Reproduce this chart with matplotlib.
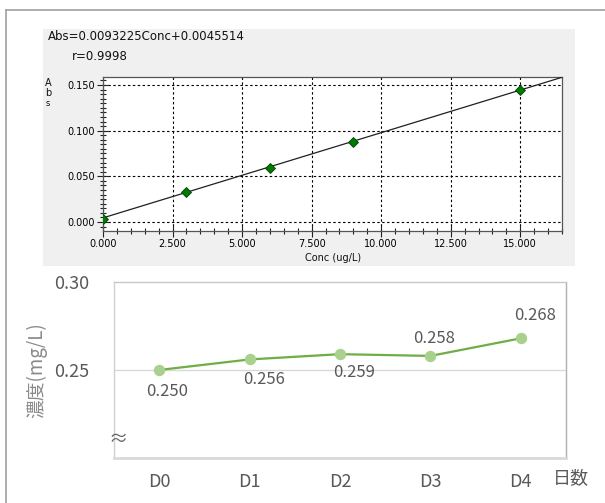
import matplotlib
matplotlib.use("Agg")
import matplotlib.pyplot as plt
from matplotlib.patches import Rectangle
from matplotlib.lines import Line2D
from matplotlib.ticker import MultipleLocator
import numpy as np

# Calibration curve data
conc = [0.0, 3.0, 6.0, 9.0, 15.0]
absorb = [0.0035, 0.033, 0.059, 0.088, 0.144]
slope = 0.0093225
intercept = 0.0045514
r_value = 0.9998
cal_xticks = [0.0, 2.5, 5.0, 7.5, 10.0, 12.5, 15.0]
cal_yticks = [0.0, 0.05, 0.10, 0.15]

# Daily concentration data
days = ["D0", "D1", "D2", "D3", "D4"]
density = [0.250, 0.256, 0.259, 0.258, 0.268]
density_labels = ["0.250", "0.256", "0.259", "0.258", "0.268"]
label_offsets = [(8, -21), (14, -20), (14, -18), (4, 17), (14, 23)]

W, H = 605, 503
fig = plt.figure(figsize=(W / 100, H / 100), dpi=100)
fig.patch.set_facecolor("white")

def fx(px):
    return px / W

def fy(py):
    return 1 - py / H

# Outer frame
fig.add_artist(Line2D([fx(6), 1.0], [fy(10), fy(10)], color="#a0a0a0", lw=1.2))
fig.add_artist(Line2D([fx(6), fx(6)], [fy(10), 0.0], color="#a0a0a0", lw=1.2))

# Calibration panel background
fig.add_artist(Rectangle((fx(43), fy(266)), fx(575) - fx(43), fy(29) - fy(266),
                         transform=fig.transFigure, facecolor="#f0f0f0",
                         edgecolor="none", zorder=0))

top_font = "DejaVu Sans"
ax1 = fig.add_axes([fx(103), fy(231), fx(562) - fx(103), fy(77) - fy(231)])
ax1.set_facecolor("white")
xmax = 16.5
ax1.set_xlim(0, xmax)
ax1.set_ylim(-0.0098, 0.1587)
ax1.set_xticks(cal_xticks)
ax1.set_xticklabels([f"{v:.3f}" for v in cal_xticks], fontsize=7, family=top_font)
ax1.set_yticks(cal_yticks)
ax1.set_yticklabels([f"{v:.3f}" for v in cal_yticks], fontsize=7, family=top_font)
ax1.xaxis.set_minor_locator(MultipleLocator(0.5))
ax1.yaxis.set_minor_locator(MultipleLocator(0.005))
ax1.tick_params(which="major", direction="inout", length=8, width=0.8, color="#222", pad=2)
ax1.tick_params(which="minor", direction="inout", length=5, width=0.8, color="#222")
ax1.grid(True, which="major", color="black", linestyle=(0, (2.2, 2.2)), lw=0.8)
for s in ax1.spines.values():
    s.set_color("#555555")
    s.set_linewidth(0.9)

# Regression line across the full x range
xs = np.array([0.0, xmax])
ax1.plot(xs, slope * xs + intercept, color="#202020", lw=0.9, zorder=3)
ax1.plot(conc, absorb, linestyle="none", marker="D", markersize=5,
         markerfacecolor="#007a00", markeredgecolor="#004000", markeredgewidth=0.6,
         zorder=4, clip_on=True)

fig.text(fx(48), fy(37), f"Abs={slope}Conc+{intercept}", fontsize=8.5,
         family=top_font, va="center", ha="left", color="#111")
fig.text(fx(72), fy(57), f"r={r_value}", fontsize=8.5, family=top_font,
         va="center", ha="left", color="#111")
for ch, yy in zip("Abs", [83, 93, 103]):
    fig.text(fx(48), fy(yy), ch, fontsize=7 if ch != "s" else 6, family=top_font,
             va="center", ha="center", color="#111")
fig.text(fx(333), fy(258), "Conc (ug/L)", fontsize=7, family=top_font,
         va="center", ha="center", color="#111")

# Daily concentration panel
cjk = ["Noto Sans CJK JP", "DejaVu Sans"]
ax2 = fig.add_axes([fx(114), fy(458), fx(566) - fx(114), fy(282) - fy(458)])
ax2.set_xlim(-0.5, len(days) - 0.5)
ax2.set_ylim(0.20, 0.30)
xpos = np.arange(len(days))
ax2.set_xticks(xpos)
ax2.set_xticklabels(days, fontsize=13, color="#595959", family=cjk)
ax2.set_yticks([0.25, 0.30])
ax2.set_yticklabels(["0.25", "0.30"], fontsize=13, color="#595959", family=cjk)
ax2.tick_params(length=0)
ax2.tick_params(axis="y", pad=18)
ax2.tick_params(axis="x", pad=11)
ax2.axhline(0.25, color="#d9d9d9", lw=1.0, zorder=1)
ax2.spines["top"].set_color("#c8c8c8")
ax2.spines["right"].set_color("#b0b0b0")
ax2.spines["left"].set_color("#d0d0d0")
ax2.spines["bottom"].set_color("#d9d9d9")
ax2.spines["bottom"].set_linewidth(2.0)
for k in ("top", "right", "left"):
    ax2.spines[k].set_linewidth(1.0)

ax2.plot(xpos, density, color="#70ad47", lw=1.6, zorder=3,
         marker="o", markersize=7.2, markerfacecolor="#a9d18e",
         markeredgecolor="#a9d18e")
for x, v, lab, off in zip(xpos, density, density_labels, label_offsets):
    ax2.annotate(lab, (x, v), xytext=off, textcoords="offset pixels",
                 ha="center", va="center", fontsize=12, color="#595959", family=cjk)

# Axis-break mark on the value axis
fig.text(fx(118), fy(440), "≈", fontsize=14, color="#666666", family=cjk,
         ha="center", va="center")

fig.text(fx(37), fy(370), "濃度(mg/L)", fontsize=13.5, color="#8a8a8a",
         family=cjk, rotation=90, ha="center", va="center")
fig.text(fx(553), fy(478), "日数", fontsize=13, color="#595959", family=cjk,
         ha="left", va="center")

fig.savefig("out.png", dpi=100)
